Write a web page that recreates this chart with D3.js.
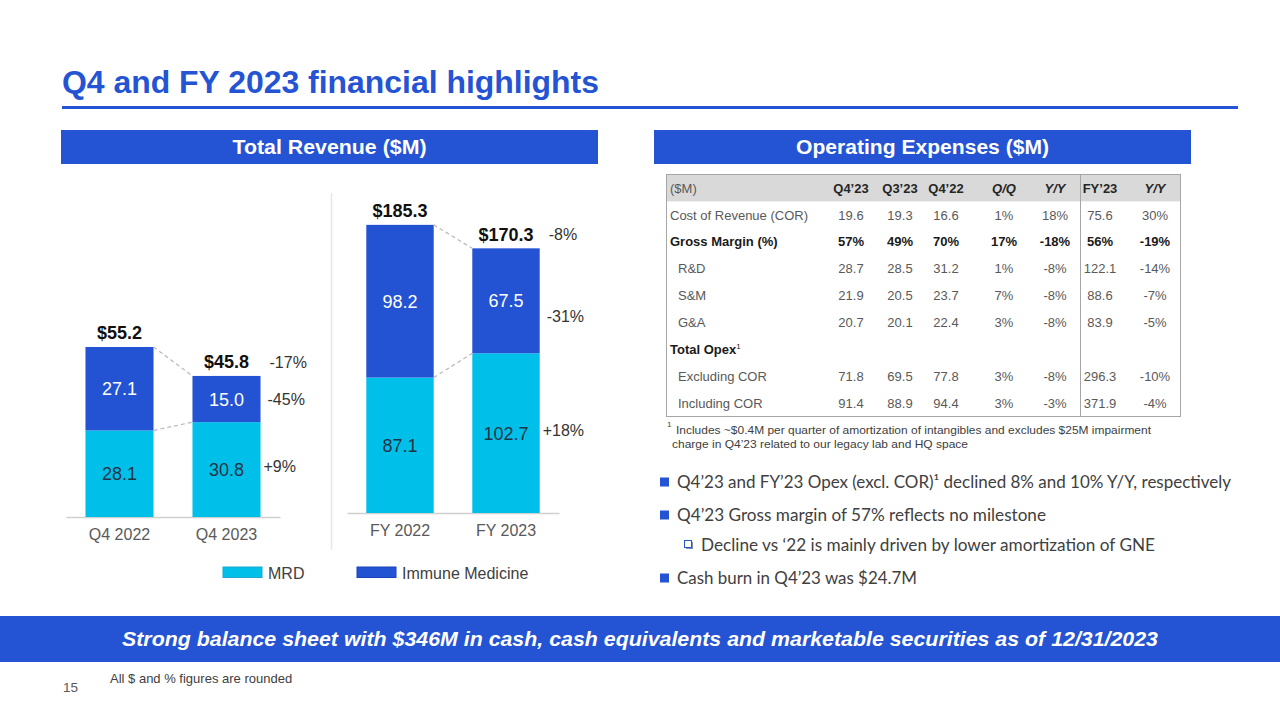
<!DOCTYPE html>
<html><head><meta charset="utf-8">
<script src="https://cdn.jsdelivr.net/npm/d3@7"></script>
<style>html,body{margin:0;padding:0;background:#fff;} svg{display:block;}</style>
</head><body>
<svg id="c" width="1280" height="720"></svg>
<script>
// ---------------- DATA ----------------
const quarterCategories = ["Q4 2022", "Q4 2023"];
const quarterMRD = [28.1, 30.8];
const quarterImmune = [27.1, 15.0];
const quarterTotals = [55.2, 45.8];
const quarterChanges = ["-17%", "-45%", "+9%"];

const fyCategories = ["FY 2022", "FY 2023"];
const fyMRD = [87.1, 102.7];
const fyImmune = [98.2, 67.5];
const fyTotals = [185.3, 170.3];
const fyChanges = ["-8%", "-31%", "+18%"];

const seriesNames = ["MRD", "Immune Medicine"];

const tableHeader = ["($M)", "Q4’23", "Q3’23", "Q4’22", "Q/Q", "Y/Y", "FY’23", "Y/Y"];
const tableRowLabels = ["Cost of Revenue (COR)", "Gross Margin (%)", "R&D", "S&M", "G&A", "Total Opex", "Excluding COR", "Including COR"];
const tableValues = [
  ["19.6", "19.3", "16.6", "1%", "18%", "75.6", "30%"],
  ["57%", "49%", "70%", "17%", "-18%", "56%", "-19%"],
  ["28.7", "28.5", "31.2", "1%", "-8%", "122.1", "-14%"],
  ["21.9", "20.5", "23.7", "7%", "-8%", "88.6", "-7%"],
  ["20.7", "20.1", "22.4", "3%", "-8%", "83.9", "-5%"],
  [],
  ["71.8", "69.5", "77.8", "3%", "-8%", "296.3", "-10%"],
  ["91.4", "88.9", "94.4", "3%", "-3%", "371.9", "-4%"]
];
const footnoteLines = [
  "Includes ~$0.4M per quarter of amortization of intangibles and excludes $25M impairment",
  "charge in Q4’23 related to our legacy lab and HQ space"
];
const bulletTexts = [
  "Q4’23 and FY’23 Opex (excl. COR)¹ declined 8% and 10% Y/Y, respectively",
  "Q4’23 Gross margin of 57% reflects no milestone",
  "Decline vs ‘22 is mainly driven by lower amortization of GNE",
  "Cash burn in Q4’23 was $24.7M"
];
const titleText = "Q4 and FY 2023 financial highlights";
const leftHeader = "Total Revenue ($M)";
const rightHeader = "Operating Expenses ($M)";
const bannerText = "Strong balance sheet with $346M in cash, cash equivalents and marketable securities as of 12/31/2023";
const pageNumber = "15";
const roundingNote = "All $ and % figures are rounded";

// ---------------- STYLE ----------------
const BLUE = "#2453D4";
const CYAN = "#00C0EA";
const ARIAL = "'Liberation Sans', Arial, sans-serif";
const CAL = "Lato, 'Open Sans', sans-serif";

const svg = d3.select("#c");

// Title
svg.append("text").attr("x", 62).attr("y", 93)
  .attr("font-family", ARIAL).attr("font-weight", "bold").attr("font-size", 31)
  .attr("fill", BLUE).attr("textLength", 537).attr("lengthAdjust", "spacingAndGlyphs")
  .text(titleText);
svg.append("rect").attr("x", 62).attr("y", 106).attr("width", 1176).attr("height", 3).attr("fill", BLUE);

// Section headers
function header(x, w, txt, tl) {
  svg.append("rect").attr("x", x).attr("y", 130).attr("width", w).attr("height", 34).attr("fill", BLUE);
  svg.append("text").attr("x", x + w / 2).attr("y", 154)
    .attr("text-anchor", "middle").attr("font-family", ARIAL).attr("font-weight", "bold")
    .attr("font-size", 20).attr("fill", "#fff")
    .attr("textLength", tl).attr("lengthAdjust", "spacingAndGlyphs").text(txt);
}
header(61, 537, leftHeader, 194);
header(654, 537, rightHeader, 253);

// Separator between charts
svg.append("line").attr("x1", 331.5).attr("x2", 331.5).attr("y1", 193).attr("y2", 550)
  .attr("stroke", "#e6e6e6").attr("stroke-width", 1.5);

// ---------------- BAR CHARTS ----------------
function drawChart(cats, mrd, imm, totals, changes, opt) {
  const g = svg.append("g");
  const x = d3.scaleBand().domain(cats).range(opt.xRange).paddingInner(0.364).paddingOuter(0.182);
  const y = d3.scaleLinear().domain([0, opt.maxV]).range([opt.base, opt.base - opt.maxV * opt.pxPerUnit]);
  const rows = cats.map((c, i) => ({ cat: c, MRD: mrd[i], IM: imm[i], total: totals[i] }));
  const stack = d3.stack().keys(["MRD", "IM"])(rows);
  const colors = { MRD: CYAN, IM: "#2352D3" };

  // axis baseline
  const axis = d3.axisBottom(x).tickSize(0).tickPadding(12);
  const ag = g.append("g").attr("transform", `translate(0,${opt.base})`).call(axis);
  ag.select(".domain").attr("stroke", "#d0d0d0").attr("stroke-width", 1.5);
  ag.selectAll("text").attr("font-family", ARIAL).attr("font-size", 16).attr("fill", "#595959");

  stack.forEach(layer => {
    g.selectAll(null).data(layer).enter().append("rect")
      .attr("x", d => x(d.data.cat)).attr("width", x.bandwidth())
      .attr("y", d => y(d[1])).attr("height", d => y(d[0]) - y(d[1]))
      .attr("fill", colors[layer.key]);
    g.selectAll(null).data(layer).enter().append("text")
      .attr("x", d => x(d.data.cat) + x.bandwidth() / 2)
      .attr("y", d => (y(d[0]) + y(d[1])) / 2)
      .attr("dy", "0.36em").attr("text-anchor", "middle")
      .attr("font-family", ARIAL).attr("font-size", 18)
      .attr("fill", layer.key === "IM" ? "#fff" : "#223344")
      .text(d => d.data[layer.key].toFixed(1));
  });

  // totals
  g.selectAll(null).data(rows).enter().append("text")
    .attr("x", d => x(d.cat) + x.bandwidth() / 2)
    .attr("y", d => y(d.MRD + d.IM) - 14).attr("dy", "0.36em")
    .attr("text-anchor", "middle").attr("font-family", ARIAL).attr("font-weight", "bold")
    .attr("font-size", 18).attr("fill", "#111")
    .text(d => "$" + d.total.toFixed(1));

  // connectors
  const x1 = x(cats[0]) + x.bandwidth(), x2 = x(cats[1]);
  const conn = [[rows[0].MRD + rows[0].IM, rows[1].MRD + rows[1].IM], [rows[0].MRD, rows[1].MRD]];
  g.selectAll(null).data(conn).enter().append("line")
    .attr("x1", x1).attr("x2", x2).attr("y1", d => y(d[0])).attr("y2", d => y(d[1]))
    .attr("stroke", "#c0b4b4").attr("stroke-width", 1.2).attr("stroke-dasharray", "4,3");

  // change labels
  const r = rows[1], right = x(cats[1]) + x.bandwidth();
  const ys = [y(r.MRD + r.IM) - 14, (y(r.MRD) + y(r.MRD + r.IM)) / 2 + opt.imDy, (y(0) + y(r.MRD)) / 2 - 3];
  const dxs = [9, 7, 3];
  g.selectAll(null).data(changes).enter().append("text")
    .attr("x", (d, i) => right + dxs[i]).attr("y", (d, i) => ys[i]).attr("dy", "0.36em")
    .attr("font-family", ARIAL).attr("font-size", 16).attr("fill", "#333")
    .text(d => d);
}

drawChart(quarterCategories, quarterMRD, quarterImmune, quarterTotals, quarterChanges,
  { xRange: [66, 280], base: 517, maxV: 60, pxPerUnit: 3.08, imDy: 0 });
drawChart(fyCategories, fyMRD, fyImmune, fyTotals, fyChanges,
  { xRange: [347, 559], base: 513, maxV: 200, pxPerUnit: 1.555, imDy: 15 });

// Legend
const legend = svg.append("g");
const legX = [223, 357];
const legCol = [CYAN, "#2352D3"];
const legStroke = ["#1aa8cc", "#1a44b8"];
seriesNames.forEach((n, i) => {
  legend.append("rect").attr("x", legX[i]).attr("y", 567).attr("width", 39).attr("height", 10.5)
    .attr("fill", legCol[i]).attr("stroke", legStroke[i]).attr("stroke-width", 1);
  legend.append("text").attr("x", legX[i] + 45).attr("y", 573).attr("dy", "0.36em")
    .attr("font-family", ARIAL).attr("font-size", 16).attr("fill", "#404040").text(n);
});

// ---------------- TABLE ----------------
const tX = 666.5, tY = 174.5, tW = 514, tH = 242;
const rowY = d3.scaleBand().domain(d3.range(tableRowLabels.length + 1)).range([tY, tY + tH]);
const colX = [null, 851, 900, 946, 1004, 1055, 1100, 1155];
const indented = new Set(["R&D", "S&M", "G&A", "Excluding COR", "Including COR"]);
const boldRows = new Set(["Gross Margin (%)", "Total Opex"]);
const tg = svg.append("g");
tg.append("rect").attr("x", tX).attr("y", tY).attr("width", tW).attr("height", rowY.step())
  .attr("fill", "#d9d9d9");
tg.append("rect").attr("x", tX).attr("y", tY).attr("width", tW).attr("height", tH)
  .attr("fill", "none").attr("stroke", "#a6a6a6").attr("stroke-width", 1);
tg.append("line").attr("x1", 1080.5).attr("x2", 1080.5).attr("y1", tY).attr("y2", tY + tH)
  .attr("stroke", "#a6a6a6").attr("stroke-width", 1);

const yc = i => rowY(i) + rowY.step() / 2;
// header
tableHeader.forEach((h, i) => {
  const t = tg.append("text").attr("y", yc(0)).attr("dy", "0.36em")
    .attr("font-family", ARIAL).attr("font-size", 13).text(h);
  if (i === 0) {
    t.attr("x", 670).attr("fill", "#595959");
  } else {
    t.attr("x", colX[i]).attr("text-anchor", "middle").attr("font-weight", "bold").attr("fill", "#262626");
    if (h === "Q/Q" || h === "Y/Y") t.attr("font-style", "italic");
  }
});
// rows
tableRowLabels.forEach((lab, r) => {
  const bold = boldRows.has(lab);
  const t = tg.append("text").attr("x", indented.has(lab) ? 678 : 670).attr("y", yc(r + 1)).attr("dy", "0.36em")
    .attr("font-family", ARIAL).attr("font-size", 13)
    .attr("font-weight", bold ? "bold" : "normal").attr("fill", bold ? "#1a1a1a" : "#595959");
  t.append("tspan").text(lab);
  if (lab === "Total Opex") t.append("tspan").attr("dy", "-0.6em").attr("font-size", 8).attr("font-weight", "normal").text("1");
  tg.selectAll(null).data(tableValues[r]).enter().append("text")
    .attr("x", (d, i) => colX[i + 1]).attr("y", yc(r + 1)).attr("dy", "0.36em")
    .attr("text-anchor", "middle").attr("font-family", ARIAL).attr("font-size", 13)
    .attr("font-weight", bold ? "bold" : "normal").attr("fill", bold ? "#1a1a1a" : "#595959")
    .text(d => d);
});

// footnote
svg.append("text").attr("x", 667).attr("y", 427).attr("font-family", ARIAL).attr("font-size", 8)
  .attr("fill", "#404040").text("1");
svg.append("text").attr("x", 676).attr("y", 434).attr("font-family", ARIAL).attr("font-size", 11)
  .attr("fill", "#404040").attr("textLength", 475).attr("lengthAdjust", "spacingAndGlyphs").text(footnoteLines[0]);
svg.append("text").attr("x", 672).attr("y", 448).attr("font-family", ARIAL).attr("font-size", 11)
  .attr("fill", "#404040").attr("textLength", 296).attr("lengthAdjust", "spacingAndGlyphs").text(footnoteLines[1]);

// bullets
const bulletY = [482, 515, 545, 578];
const bulletLevel = [0, 0, 1, 0];
const bulletLen = [554, 369, 454, 240];
bulletTexts.forEach((b, i) => {
  const lvl = bulletLevel[i];
  if (lvl === 0) {
    svg.append("rect").attr("x", 660).attr("y", bulletY[i] - 4.5).attr("width", 9).attr("height", 9).attr("fill", BLUE);
  } else {
    svg.append("rect").attr("x", 686).attr("y", bulletY[i] - 3).attr("width", 7).attr("height", 7).attr("fill", "#7f8fa8");
    svg.append("rect").attr("x", 684.5).attr("y", bulletY[i] - 4.5).attr("width", 7).attr("height", 7)
      .attr("fill", "#fff").attr("stroke", BLUE).attr("stroke-width", 1);
  }
  svg.append("text").attr("x", lvl === 0 ? 677 : 701).attr("y", bulletY[i]).attr("dy", "0.36em")
    .attr("font-family", CAL).attr("font-size", 17).attr("fill", "#404040")
    .attr("textLength", bulletLen[i]).attr("lengthAdjust", "spacingAndGlyphs").text(b);
});

// banner
svg.append("rect").attr("x", 0).attr("y", 616).attr("width", 1280).attr("height", 46).attr("fill", BLUE);
svg.append("text").attr("x", 640).attr("y", 639).attr("dy", "0.36em").attr("text-anchor", "middle")
  .attr("font-family", ARIAL).attr("font-weight", "bold").attr("font-style", "italic")
  .attr("font-size", 20).attr("fill", "#fff")
  .attr("textLength", 1036).attr("lengthAdjust", "spacingAndGlyphs").text(bannerText);

// footer
svg.append("text").attr("x", 63).attr("y", 692).attr("font-family", ARIAL).attr("font-size", 13.5)
  .attr("fill", "#595959").text(pageNumber);
svg.append("text").attr("x", 110).attr("y", 683).attr("font-family", ARIAL).attr("font-size", 13)
  .attr("fill", "#404040").text(roundingNote);
</script>
</body></html>
